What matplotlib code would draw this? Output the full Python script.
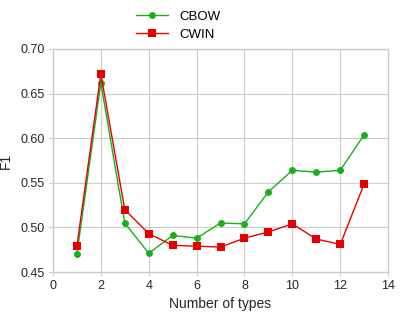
import matplotlib
matplotlib.use('Agg')
import matplotlib.pyplot as plt

# number of types vs F1 for the two models
n_types = [1, 2, 3, 4, 5, 6, 7, 8, 9, 10, 11, 12, 13]
cbow_f1 = [0.470, 0.662, 0.505, 0.471, 0.491, 0.488, 0.505, 0.504,
           0.540, 0.564, 0.562, 0.564, 0.604]
cwin_f1 = [0.479, 0.672, 0.520, 0.493, 0.480, 0.479, 0.478, 0.488,
           0.495, 0.504, 0.487, 0.481, 0.549]

plt.rcParams['font.family'] = ['Liberation Sans', 'DejaVu Sans']

fig = plt.figure(figsize=(4.01, 3.12), dpi=100)
ax = fig.add_axes([0.132, 0.128, 0.836, 0.715])

ax.plot(n_types, cbow_f1, color='#1aaf1a', marker='o', markersize=5,
        markeredgewidth=0, linewidth=1, label='CBOW')
ax.plot(n_types, cwin_f1, color='#e60000', marker='s', markersize=5.5,
        markeredgewidth=0, linewidth=1, label='CWIN')

ax.set_xlim(0, 14)
ax.set_ylim(0.45, 0.70)
ax.set_xticks(range(0, 15, 2))
ax.set_yticks([0.45, 0.50, 0.55, 0.60, 0.65, 0.70])
ax.set_yticklabels(['%.2f' % v for v in ax.get_yticks()])

ax.grid(True, color='#cccccc', linewidth=0.8)
ax.set_axisbelow(True)
for s in ax.spines.values():
    s.set_color('#cccccc')
    s.set_linewidth(1)
ax.tick_params(colors='#262626', labelsize=9, length=3, width=0.8,
               color='#cccccc', pad=3)

ax.set_xlabel('Number of types', fontsize=10, color='#262626', labelpad=3)
ax.set_ylabel('F1', fontsize=10, color='#262626')
ax.yaxis.set_label_coords(-0.12, 0.5)

ax.legend(loc='lower left', bbox_to_anchor=(0.225, 1.0), frameon=False,
          fontsize=9.5, labelspacing=0.45, handlelength=2.4,
          handletextpad=0.9, borderaxespad=0.2)

fig.savefig('out.png', dpi=100)
